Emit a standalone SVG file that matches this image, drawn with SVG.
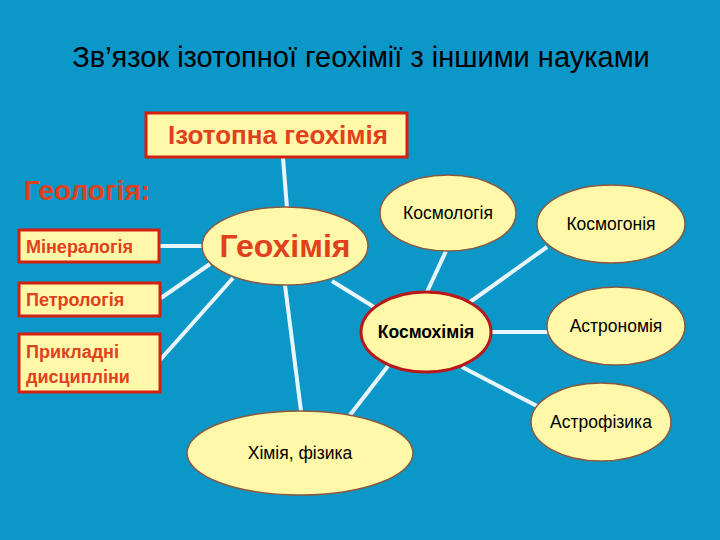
<svg xmlns="http://www.w3.org/2000/svg" width="720" height="540" viewBox="0 0 720 540">
<style>
.ln{stroke:#e8f6fb;stroke-width:4;fill:none}
.el{fill:#fff8a8;stroke:#8a5a40;stroke-width:1.5}
.bx{fill:#fff8a8;stroke:#d42010;stroke-width:3}
.rt{font-family:"Liberation Sans",Arial,sans-serif;font-weight:bold;fill:#e0401c}
.bt{font-family:"Liberation Sans",Arial,sans-serif;fill:#000;font-size:17.5px}
</style>
<rect width="720" height="540" fill="#0c97c9"/>
<text x="361" y="67" text-anchor="middle" font-family="Liberation Sans,Arial,sans-serif" font-size="29" fill="#000">Зв’язок ізотопної геохімії з іншими науками</text>
<g id="connectors">
<line class="ln" x1="283" y1="158" x2="287" y2="208"/>
<line class="ln" x1="160" y1="246" x2="203" y2="246"/>
<line class="ln" x1="161" y1="298" x2="210" y2="264"/>
<line class="ln" x1="160" y1="360" x2="233" y2="278"/>
<line class="ln" x1="285" y1="285" x2="301" y2="411"/>
<line class="ln" x1="332" y1="281" x2="374" y2="307"/>
<line class="ln" x1="427" y1="292" x2="446" y2="251"/>
<line class="ln" x1="470" y1="302" x2="547" y2="247"/>
<line class="ln" x1="491" y1="332" x2="548" y2="332"/>
<line class="ln" x1="462" y1="367" x2="537" y2="406"/>
<line class="ln" x1="388" y1="366" x2="350" y2="415"/>
</g>
<g id="izotopna"><rect class="bx" x="146" y="113" width="261" height="44"/><text class="rt" x="278" y="144" font-size="26" text-anchor="middle">Ізотопна геохімія</text></g>
<g id="geologiya"><text class="rt" x="24" y="200" font-size="28">Геологія:</text></g>
<g id="mineralogiya"><rect class="bx" x="19" y="230" width="140" height="32"/><text class="rt" x="26" y="253" font-size="18">Мінералогія</text></g>
<g id="petrologiya"><rect class="bx" x="19" y="283" width="141" height="33"/><text class="rt" x="26" y="306" font-size="18">Петрологія</text></g>
<g id="prykladni"><rect class="bx" x="19" y="334" width="141" height="58"/><text class="rt" x="26" y="358" font-size="18">Прикладні</text><text class="rt" x="26" y="383" font-size="18">дисципліни</text></g>
<g id="geokhimiya"><ellipse class="el" cx="285" cy="246" rx="83" ry="39"/><text class="rt" x="285" y="257" font-size="32" text-anchor="middle">Геохімія</text></g>
<g id="kosmologiya"><ellipse class="el" cx="448" cy="213" rx="68" ry="38"/><text class="bt" x="448" y="219" text-anchor="middle">Космологія</text></g>
<g id="kosmogoniya"><ellipse class="el" cx="611" cy="224" rx="74" ry="39"/><text class="bt" x="611" y="230" text-anchor="middle">Космогонія</text></g>
<g id="kosmokhimiya"><ellipse cx="426" cy="332" rx="65" ry="40" fill="#fff8a8" stroke="#b81818" stroke-width="3"/><text class="bt" x="426" y="338" text-anchor="middle" font-weight="bold" font-size="16">Космохімія</text></g>
<g id="astronomiya"><ellipse class="el" cx="616" cy="326" rx="69" ry="39"/><text class="bt" x="616" y="332" text-anchor="middle">Астрономія</text></g>
<g id="astrofizyka"><ellipse class="el" cx="601" cy="422" rx="70" ry="39"/><text class="bt" x="601" y="428" text-anchor="middle">Астрофізика</text></g>
<g id="khimiya"><ellipse class="el" cx="300" cy="453" rx="113" ry="42"/><text class="bt" x="300" y="459" text-anchor="middle">Хімія, фізика</text></g>
</svg>
